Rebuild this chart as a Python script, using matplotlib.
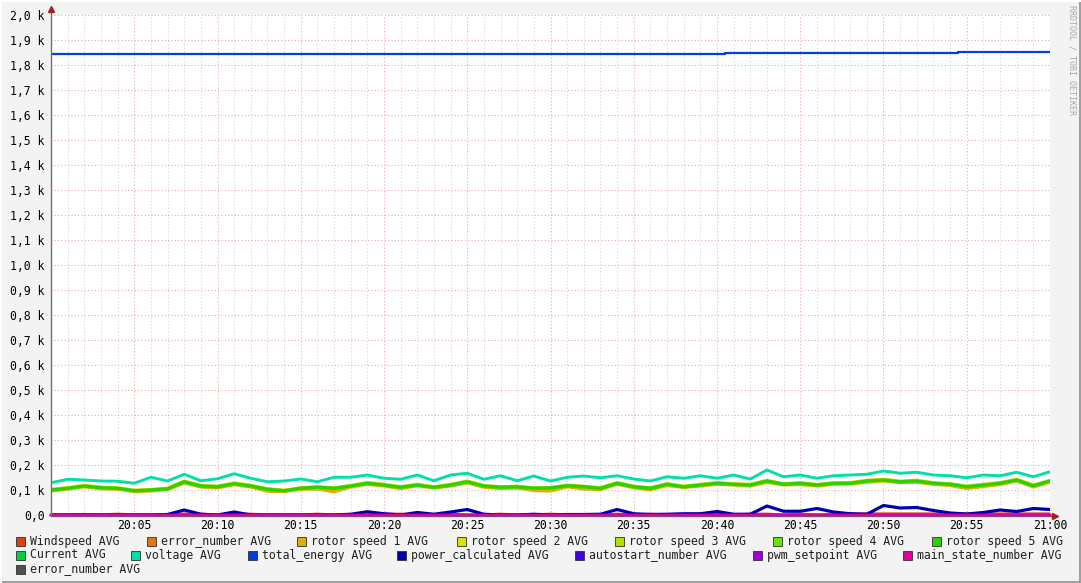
import numpy as np
import matplotlib.pyplot as plt
from matplotlib.patches import Rectangle
from matplotlib.lines import Line2D

# time axis: minutes after 20:00, one sample per minute
minutes = np.arange(61)

windspeed = [0, 0, 2, 0, 3, 0, 0, 0, 4, 3, 0, 3, 3, 0, 0, 0, 3, 0, 0, 0, 3,
             3, 0, 0, 3, 0, 0, 3, 0, 0, 3, 0, 0, 0, 3, 0, 3, 0, 0, 3, 3,
             0, 3, 3, 0, 3, 0, 3, 4, 4, 4, 4, 4, 4, 4, 4, 4, 4, 4, 4, 4]
rotor1 = [96, 104, 113, 105, 103, 94, 96, 102, 128, 112, 108, 122, 112, 95, 94, 103, 104, 93, 112, 123, 116,
          106, 117, 108, 116, 129, 111, 106, 108, 98, 96, 113, 104, 102, 123, 109, 101, 118, 110, 116, 123,
          120, 116, 131, 120, 122, 116, 123, 124, 131, 136, 130, 131, 123, 118, 106, 114, 122, 136, 112, 132]
rotor2 = [103, 109, 119, 111, 109, 99, 102, 107, 136, 118, 115, 129, 119, 105, 99, 109, 113, 109, 118, 130, 123,
          113, 123, 113, 123, 136, 118, 113, 115, 109, 110, 120, 115, 109, 130, 115, 109, 125, 115, 123, 130,
          125, 123, 139, 125, 130, 122, 129, 130, 139, 143, 135, 139, 129, 125, 115, 123, 130, 143, 120, 139]
rotor3 = [101, 108, 117, 110, 108, 98, 101, 106, 134, 117, 114, 127, 117, 104, 98, 108, 112, 108, 117, 128, 121,
          112, 121, 112, 121, 134, 117, 112, 114, 108, 109, 118, 114, 108, 128, 114, 108, 124, 114, 121, 128,
          124, 121, 137, 124, 128, 121, 128, 128, 137, 141, 134, 137, 128, 124, 114, 121, 128, 141, 118, 137]
rotor4 = [99, 106, 115, 108, 106, 96, 99, 104, 131, 115, 112, 124, 115, 102, 96, 106, 110, 106, 115, 126, 119,
          110, 119, 110, 119, 131, 115, 110, 112, 106, 107, 116, 112, 106, 126, 112, 106, 122, 112, 119, 126,
          122, 119, 135, 122, 126, 119, 126, 126, 135, 139, 132, 135, 126, 122, 112, 119, 126, 139, 116, 135]
rotor5 = [100, 107, 116, 109, 107, 97, 100, 105, 133, 116, 113, 125, 116, 103, 97, 107, 111, 107, 116, 127, 120,
          111, 120, 111, 120, 133, 116, 111, 113, 107, 108, 117, 113, 107, 127, 113, 107, 123, 113, 120, 127,
          123, 120, 136, 123, 127, 120, 127, 127, 136, 140, 133, 136, 127, 123, 113, 120, 127, 140, 117, 136]
voltage = [129, 143, 140, 136, 135, 127, 151, 136, 163, 137, 145, 165, 147, 133, 136, 144, 133, 151, 151, 160, 147,
           143, 160, 137, 160, 167, 143, 157, 137, 156, 136, 151, 156, 149, 157, 144, 136, 153, 147, 157, 147,
           160, 144, 180, 153, 160, 147, 157, 160, 163, 176, 167, 171, 160, 157, 149, 160, 157, 171, 153, 173]
power = [0, 0, 0, 0, 0, 0, 0, 2, 20, 3, 0, 12, 0, 0, 0, 0, 0, 0, 3, 13, 5,
         0, 10, 3, 12, 22, 3, 0, 0, 3, 0, 2, 2, 3, 22, 5, 2, 3, 5, 5, 14,
         3, 3, 36, 15, 15, 26, 12, 5, 3, 38, 28, 30, 18, 8, 4, 10, 20, 14, 26, 22]
# total_energy only steps twice in the hour
energy_t = [0, 40.5, 54.5, 60]
energy = [1844, 1848, 1852, 1852]
# flat series sitting on zero for the whole hour
flat_t = [0, 60]
flat_zero = [0, 0]

names = ["Windspeed AVG", "error_number AVG", "rotor speed 1 AVG", "rotor speed 2 AVG",
         "rotor speed 3 AVG", "rotor speed 4 AVG", "rotor speed 5 AVG",
         "Current AVG", "voltage AVG", "total_energy AVG", "power_calculated AVG",
         "autostart_number AVG", "pwm_setpoint AVG", "main_state_number AVG", "error_number AVG"]
colors = ["#E0400C", "#E07810", "#E0B000", "#E0E000", "#B0E000", "#70E000", "#30D000",
          "#00D040", "#00E0A8", "#0040E0", "#0000B0", "#4000E0", "#A000E0", "#E000A0", "#505050"]

x_ticks = [5, 10, 15, 20, 25, 30, 35, 40, 45, 50, 55, 60]
x_labels = ["20:05", "20:10", "20:15", "20:20", "20:25", "20:30", "20:35",
            "20:40", "20:45", "20:50", "20:55", "21:00"]
y_ticks = [0, 100, 200, 300, 400, 500, 600, 700, 800, 900, 1000,
           1100, 1200, 1300, 1400, 1500, 1600, 1700, 1800, 1900, 2000]
y_labels = ["0,0", "0,1 k", "0,2 k", "0,3 k", "0,4 k", "0,5 k", "0,6 k", "0,7 k", "0,8 k", "0,9 k",
            "1,0 k", "1,1 k", "1,2 k", "1,3 k", "1,4 k", "1,5 k", "1,6 k", "1,7 k", "1,8 k", "1,9 k", "2,0 k"]

W, H = 1081, 583
MONO = "DejaVu Sans Mono"
FS = 8.3

fig = plt.figure(figsize=(W / 100, H / 100), dpi=100, facecolor="#F3F3F3")
ax = fig.add_axes([51 / W, 1 - 515 / H, 999 / W, 500 / H])
ax.set_facecolor("white")
ax.set_zorder(2)

dot = (0, (1, 2.2))
ax.set_xlim(0, 60)
ax.set_ylim(0, 2000)
ax.set_xticks(x_ticks)
ax.set_xticklabels(x_labels, family=MONO, fontsize=FS)
ax.set_xticks(minutes, minor=True)
ax.set_yticks(y_ticks)
ax.set_yticklabels(y_labels, family=MONO, fontsize=FS)
ax.tick_params(which="both", length=0)
ax.tick_params(axis="y", pad=4.5)
ax.tick_params(axis="x", pad=3)
ax.grid(which="minor", axis="x", color="#D2D2D2", linestyle=dot, lw=0.75)
ax.grid(which="major", color="#E8A8A8", linestyle=dot, lw=0.75)
ax.set_axisbelow(True)
for s in ax.spines.values():
    s.set_visible(False)

series = [windspeed, flat_zero, rotor1, rotor2, rotor3, rotor4, rotor5,
          flat_zero, voltage, energy, power, flat_zero, flat_zero, flat_zero, flat_zero]
for i, (vals, c) in enumerate(zip(series, colors)):
    if vals is energy:
        ax.step(energy_t, energy, where="post", color=c, lw=1.6, zorder=3 + i)
    elif vals is flat_zero:
        ax.plot(flat_t, flat_zero, color=c, lw=1.6, zorder=3 + i, clip_on=False)
    elif vals is voltage:
        ax.plot(minutes, vals, color=c, lw=2.1, zorder=3 + i)
    else:
        ax.plot(minutes, vals, color=c, lw=2.3, zorder=3 + i)
# main_state line on top of the other zero lines
ax.plot(flat_t, flat_zero, color=colors[13], lw=1.6, zorder=30, clip_on=False)

# axis lines with arrow heads
fig.add_artist(Line2D([51 / W, 51 / W], [1 - 515 / H, 1 - 10 / H], color="#707070", lw=1, zorder=5))
fig.add_artist(Line2D([51 / W, 1054 / W], [1 - 516 / H, 1 - 516 / H], color="#707070", lw=1, zorder=1))
fig.add_artist(Line2D([51 / W], [1 - 9 / H], marker="^", color="#A02020", ms=4, lw=0, zorder=5))
fig.add_artist(Line2D([1055 / W], [1 - 516 / H], marker=">", color="#A02020", ms=4, lw=0, zorder=5))

# legend in rrdtool style
rows = [[0, 1, 2, 3, 4, 5, 6], [7, 8, 9, 10, 11, 12, 13], [14]]
row_x = [[16, 147, 297, 457, 615, 773, 932], [16, 131, 248, 397, 575, 753, 903], [16]]
row_y = [541, 555, 569]
for idx, xs, yy in zip(rows, row_x, row_y):
    for k, px in zip(idx, xs):
        fig.add_artist(Rectangle((px / W, 1 - (yy + 4.5) / H), 9 / W, 9 / H,
                                 facecolor=colors[k], edgecolor="#303030", lw=0.6))
        fig.text((px + 14) / W, 1 - yy / H, names[k], family=MONO, fontsize=FS,
                 va="center", ha="left", color="#202020")

fig.text(1072 / W, 1 - 5 / H, "RRDTOOL / TOBI OETIKER", rotation=270, va="top", ha="center",
         family=MONO, fontsize=6, color="#A8A8A8")

# 3D frame
fig.add_artist(Rectangle((0, 0), 1, 2.5 / H, facecolor="#A0A0A0", lw=0))
fig.add_artist(Rectangle((1 - 2.5 / W, 0), 2.5 / W, 1, facecolor="#A0A0A0", lw=0))
fig.add_artist(Rectangle((0, 1 - 1.5 / H), 1, 1.5 / H, facecolor="#FFFFFF", lw=0))
fig.add_artist(Rectangle((0, 0), 1.5 / W, 1, facecolor="#FFFFFF", lw=0))

fig.savefig("out.png", dpi=100, facecolor=fig.get_facecolor())
